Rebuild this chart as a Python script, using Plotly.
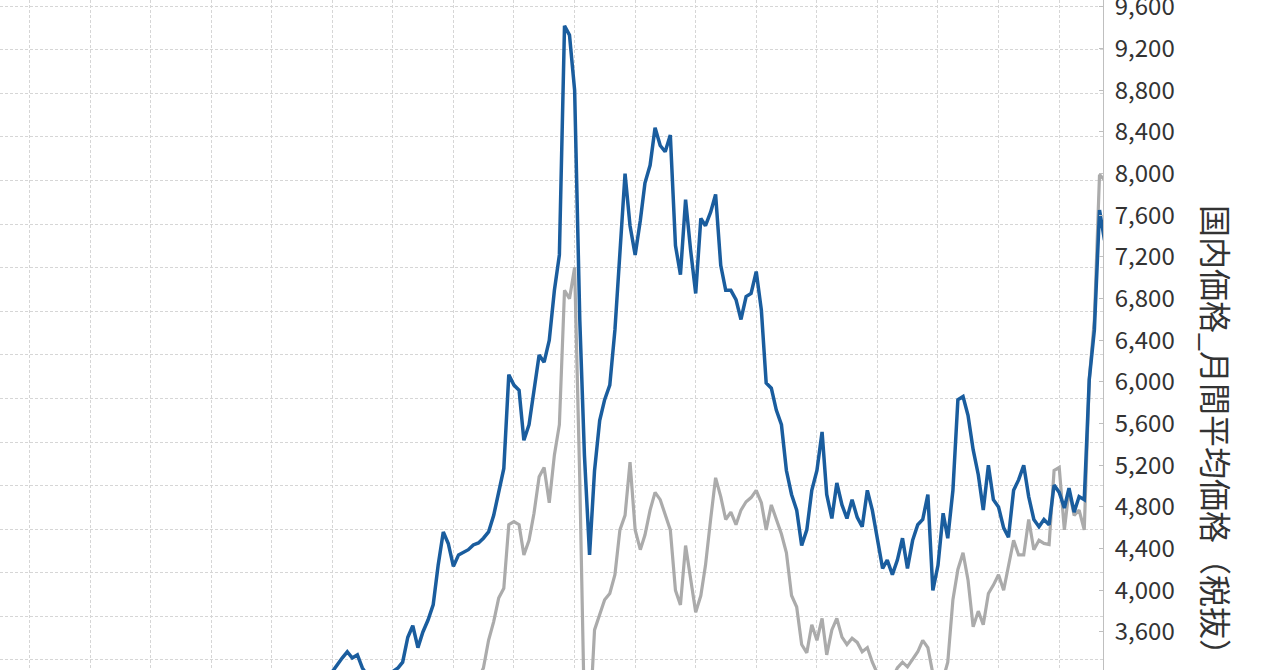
import pandas as pd
import plotly.graph_objects as go

# ---- data (monthly averages) ----
blue_start = "2004-12-01"
blue_values = [
    3150, 3220, 3300, 3350, 3410, 3350, 3380, 3255, 3180, 3150,
    3130, 3150, 3180, 3220, 3255, 3310, 3550, 3660, 3450, 3600,
    3715, 3860, 4240, 4560, 4450, 4230, 4340, 4360, 4390, 4435,
    4455, 4500, 4560, 4720, 4960, 5170, 6070, 5970, 5920, 5440,
    5590, 5920, 6260, 6190, 6400, 6880, 7220, 9420, 9330, 8800,
    6600, 5300, 4340, 5150, 5630, 5830, 5970, 6500, 7250, 8000,
    7500, 7220, 7550, 7910, 8080, 8440, 8270, 8210, 8370, 7310,
    7030, 7750, 7270, 6850, 7570, 7500, 7630, 7800, 7120, 6880,
    6880, 6790, 6600, 6820, 6850, 7060, 6690, 5990, 5940, 5730,
    5590, 5150, 4920, 4770, 4430, 4580, 4960, 5150, 5520, 4920,
    4690, 5030, 4820, 4690, 4870, 4700, 4610, 4960, 4770, 4480,
    4210, 4290, 4150, 4290, 4500, 4210, 4480, 4630, 4680, 4920,
    4000, 4240, 4740, 4500, 4960, 5830, 5860, 5680, 5350, 5110,
    4770, 5200, 4870, 4800, 4600, 4510, 4960, 5060, 5200, 4900,
    4680, 4610, 4680, 4630, 5010, 4940, 4790, 4980, 4750, 4900,
    4870, 6020, 6500, 7650, 7360,
]

gray_start = "2007-05-01"
gray_values = [
    3000, 3150, 3255, 3520, 3700, 3925, 4020, 4630, 4660, 4630,
    4340, 4480, 4740, 5090, 5180, 4840, 5300, 5590, 6880, 6800,
    7100, 5060, 2800, 2700, 3620, 3760, 3910, 3970, 4150, 4580,
    4720, 5230, 4580, 4390, 4530, 4770, 4940, 4870, 4720, 4580,
    4000, 3860, 4430, 4100, 3790, 3950, 4240, 4680, 5080, 4900,
    4680, 4750, 4630, 4770, 4850, 4890, 4960, 4840, 4580, 4820,
    4680, 4540, 4360, 3950, 3840, 3480, 3400, 3670, 3520, 3730,
    3380, 3620, 3730, 3550, 3480, 3540, 3500, 3410, 3450, 3310,
    3200, 3150, 3120, 3150, 3255, 3310, 3265, 3340, 3410, 3520,
    3450, 3200, 3120, 3150, 3310, 3910, 4200, 4360, 4100, 3650,
    3800, 3670, 3970, 4050, 4150, 4000, 4240, 4480, 4340, 4340,
    4680, 4390, 4480, 4450, 4440, 5150, 5180, 4580, 4960, 4720,
    4770, 4580, 6020, 6600, 7990, 7940,
]

axis_title = "国内価格_月間平均価格（税抜）"

blue_dates = pd.date_range(blue_start, periods=len(blue_values), freq="MS")
gray_dates = pd.date_range(gray_start, periods=len(gray_values), freq="MS")

# ---- figure ----
fig = go.Figure()
# empty trace so the left (grid-only) axis gets drawn
fig.add_trace(go.Scatter(x=[None], y=[None], yaxis="y", mode="lines",
                         showlegend=False, hoverinfo="skip"))
fig.add_trace(go.Scatter(
    x=gray_dates, y=gray_values, mode="lines", yaxis="y2",
    line=dict(color="#ababab", width=3.2), name="gray",
))
fig.add_trace(go.Scatter(
    x=blue_dates, y=blue_values, mode="lines", yaxis="y2",
    line=dict(color="#1a5d9e", width=3.5), name="blue",
))

grid_col = "#d6d6d6"
fig.update_layout(
    width=1280, height=670,
    margin=dict(l=0, r=177, t=0, b=0, autoexpand=False),
    paper_bgcolor="white", plot_bgcolor="white",
    showlegend=False,
    font=dict(family="Noto Sans CJK JP, Noto Sans, sans-serif", color="#333333"),
    xaxis=dict(
        type="date", automargin=False,
        range=["1999-07-08", "2017-09-22"],
        tick0="2000-01-01", dtick="M12",
        showgrid=True, gridcolor=grid_col, gridwidth=1, griddash="3px,2px",
        showticklabels=False, zeroline=False, showline=False, ticks="",
    ),
    yaxis=dict(
        automargin=False,
        range=[-0.23, 15.14], tick0=0, dtick=1,
        showgrid=True, gridcolor=grid_col, gridwidth=1, griddash="3px,2px",
        showticklabels=False, zeroline=False, showline=False, ticks="",
    ),
    yaxis2=dict(
        overlaying="y", side="right", automargin=False,
        range=[3235, 9667], tick0=0, dtick=400,
        tickformat=",d",
        showgrid=False, zeroline=False,
        showline=True, linecolor="#bfbfbf", linewidth=1,
        ticks="inside", ticklen=4, tickcolor="#bfbfbf",
        tickfont=dict(size=24, color="#333333",
                      family="Noto Sans CJK JP, Noto Sans, sans-serif"),
        ticklabelstandoff=6,
        ticklabeloverflow="allow",
    ),
)

fig.add_annotation(
    text=axis_title, textangle=90,
    xref="paper", yref="paper",
    x=1217 / 1103, y=1 - 438 / 670,
    xanchor="center", yanchor="middle",
    showarrow=False,
    font=dict(size=32, color="#333333", family="Noto Sans CJK JP"),
)

fig.write_html(
    "out.html",
    config={"displayModeBar": False},
    post_script="document.body.style.margin='0';document.body.style.padding='0';",
)
